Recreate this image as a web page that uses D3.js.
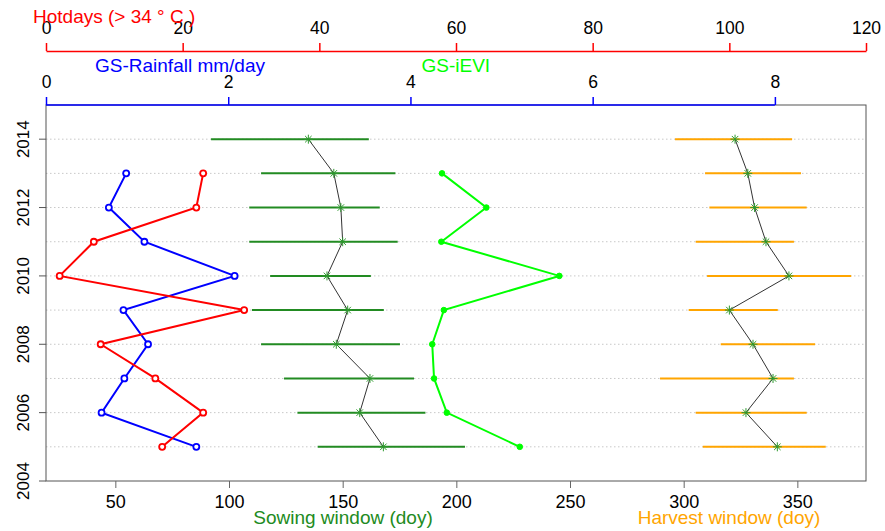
<!DOCTYPE html>
<html>
<head>
<meta charset="utf-8">
<script src="https://cdn.jsdelivr.net/npm/d3@7"></script>
<style>
  body { margin: 0; background: #fff; }
  text { font-family: "Liberation Sans", Arial, sans-serif; }
</style>
</head>
<body>
<div id="app"></div>
<script>
// years shown on the y axis (2014 has only sowing / harvest)
var years = [2005, 2006, 2007, 2008, 2009, 2010, 2011, 2012, 2013, 2014];

// hot days (> 34 C), top red axis
var hotdays = [17, 23, 16, 8, 29, 2, 7, 22, 23, null];
// growing season rainfall mm/day, blue axis
var rainfall = [1.65, 0.61, 0.86, 1.12, 0.85, 2.07, 1.08, 0.69, 0.88, null];
// GS-iEVI, drawn on the doy scale (no own axis)
var ievi = [227.9, 195.8, 190.2, 189.4, 194.5, 245.3, 193.4, 213.2, 193.7, null];

// sowing window (doy): start, mean, end
var sowStart = [139.0, 130.1, 124.2, 114.1, 110.1, 118.1, 108.9, 108.9, 114.1, 92.1];
var sowMean  = [167.9, 157.5, 162.0, 147.2, 152.2, 143.1, 150.0, 149.2, 146.1, 134.9];
var sowEnd   = [203.8, 186.4, 181.4, 175.2, 168.1, 162.4, 174.2, 166.3, 173.2, 161.5];

// harvest window (doy): start, mean, end
var harStart = [308.4, 305.3, 289.6, 316.3, 302.2, 310.3, 305.3, 311.3, 309.4, 296.2];
var harMean  = [341.2, 327.4, 339.3, 330.5, 320.1, 346.3, 336.2, 331.2, 328.2, 322.6];
var harEnd   = [362.5, 354.1, 348.5, 357.8, 341.4, 373.7, 348.5, 354.1, 351.6, 347.7];

// tick labels
var doyTicks = [50, 100, 150, 200, 250, 300, 350];
var yearTicks = [2004, 2006, 2008, 2010, 2012, 2014];
var hotTicks = [0, 20, 40, 60, 80, 100, 120];
var rainTicks = [0, 2, 4, 6, 8];

var width = 885,
    height = 531;

// plot box (window.top is read-only, so no "top" here)
var boxL = 46, boxR = 866, boxT = 105, boxB = 481;

var svg = d3.select("#app").append("svg")
    .attr("width", width)
    .attr("height", height);

var x = d3.scaleLinear().domain([19.5, 380.2]).range([boxL, boxR]);
var y = d3.scaleLinear().domain([2004, 2015]).range([boxB, boxT]);
var xHot = d3.scaleLinear().domain([0, 120]).range([boxL, boxR]);
var xRain = d3.scaleLinear().domain([0, 9]).range([boxL, boxR]);

var rows = years.map(function(yr, i) {
    return {
        year: yr, hot: hotdays[i], rain: rainfall[i], ievi: ievi[i],
        s0: sowStart[i], s: sowMean[i], s1: sowEnd[i],
        h0: harStart[i], h: harMean[i], h1: harEnd[i]
    };
});

// dotted grid lines at each year
svg.append("g").selectAll("line")
    .data(years)
    .enter().append("line")
    .attr("x1", boxL).attr("x2", boxR)
    .attr("y1", function(d) { return y(d); })
    .attr("y2", function(d) { return y(d); })
    .style("stroke", "#c8c8c8")
    .style("stroke-dasharray", "1.5,2.5");

// box
svg.append("rect")
    .attr("x", boxL).attr("y", boxT)
    .attr("width", boxR - boxL).attr("height", boxB - boxT)
    .style("fill", "none")
    .style("stroke", "#555");

// bottom axis
var xAxis = svg.append("g")
    .attr("transform", "translate(0," + boxB + ")")
    .call(d3.axisBottom(x).tickValues(doyTicks).tickSize(7).tickSizeOuter(0));
xAxis.select(".domain").remove();
xAxis.selectAll("line").style("stroke", "#666");
xAxis.selectAll("text")
    .attr("y", 27).attr("dy", 0)
    .style("font-size", "18px").style("fill", "#000")
    .style("font-family", "Liberation Sans, Arial, sans-serif");

// left axis, rotated labels
var yAxis = svg.append("g");
yAxis.selectAll("line")
    .data(yearTicks)
    .enter().append("line")
    .attr("x1", boxL - 7).attr("x2", boxL)
    .attr("y1", function(d) { return y(d); })
    .attr("y2", function(d) { return y(d); })
    .style("stroke", "#555");
yAxis.selectAll("text")
    .data(yearTicks)
    .enter().append("text")
    .attr("transform", function(d) { return "translate(28.5," + y(d) + ") rotate(-90)"; })
    .attr("text-anchor", "middle")
    .style("font-size", "17px")
    .text(function(d) { return d; });

// top red axis: hot days
var hotAxis = svg.append("g")
    .attr("transform", "translate(0,51)")
    .call(d3.axisTop(xHot).tickValues(hotTicks).tickSize(8).tickSizeOuter(0));
hotAxis.select(".domain").style("stroke", "red").style("stroke-width", 1.5);
hotAxis.selectAll("line").style("stroke", "red").style("stroke-width", 1.5);
hotAxis.selectAll("text")
    .attr("y", -17.5).attr("dy", 0)
    .style("font-size", "17.5px").style("fill", "#000")
    .style("font-family", "Liberation Sans, Arial, sans-serif");

// top blue axis: rainfall (line runs 0 to 8 only)
var rainAxis = svg.append("g")
    .attr("transform", "translate(0," + boxT + ")")
    .call(d3.axisTop(xRain).tickValues(rainTicks).tickSize(8).tickSizeOuter(0));
rainAxis.select(".domain").remove();
rainAxis.append("line")
    .attr("x1", xRain(0)).attr("x2", xRain(8))
    .style("stroke", "blue").style("stroke-width", 1.5);
rainAxis.selectAll("line").style("stroke", "blue").style("stroke-width", 1.5);
rainAxis.selectAll("text")
    .attr("y", -17.5).attr("dy", 0)
    .style("font-size", "17.5px").style("fill", "#000")
    .style("font-family", "Liberation Sans, Arial, sans-serif");

// axis titles
svg.append("text").attr("x", 33).attr("y", 22.5)
    .style("font-size", "19px").style("fill", "red")
    .text("Hotdays (> 34 \u00b0 C )");
svg.append("text").attr("x", 95).attr("y", 72)
    .style("font-size", "19px").style("fill", "blue")
    .text("GS-Rainfall mm/day");
svg.append("text").attr("x", 421.5).attr("y", 72)
    .style("font-size", "19px").style("fill", "#00ff00")
    .text("GS-iEVI");
svg.append("text").attr("x", 343).attr("y", 523.5)
    .attr("text-anchor", "middle")
    .style("font-size", "19px").style("fill", "#228b22")
    .text("Sowing window (doy)");
svg.append("text").attr("x", 729).attr("y", 523.5)
    .attr("text-anchor", "middle")
    .style("font-size", "19px").style("fill", "orange")
    .text("Harvest window (doy)");

// window bars
function windowBars(lo, hi, color) {
    svg.append("g").selectAll("line")
        .data(rows)
        .enter().append("line")
        .attr("x1", function(d) { return x(d[lo]); })
        .attr("x2", function(d) { return x(d[hi]); })
        .attr("y1", function(d) { return y(d.year); })
        .attr("y2", function(d) { return y(d.year); })
        .style("stroke", color)
        .style("stroke-width", 2);
}
windowBars("s0", "s1", "#228b22");
windowBars("h0", "h1", "orange");

// mean lines with asterisk markers
function meanLine(key) {
    var line = d3.line()
        .x(function(d) { return x(d[key]); })
        .y(function(d) { return y(d.year); });
    svg.append("path")
        .datum(rows)
        .attr("d", line)
        .style("fill", "none")
        .style("stroke", "#333")
        .style("stroke-width", 1);

    var star = svg.append("g").selectAll("g")
        .data(rows)
        .enter().append("g")
        .attr("transform", function(d) { return "translate(" + x(d[key]) + "," + y(d.year) + ")"; });
    var r = 4.5, q = r * 0.72;
    [[-r, 0, r, 0], [0, -r, 0, r], [-q, -q, q, q], [-q, q, q, -q]].forEach(function(s) {
        star.append("line")
            .attr("x1", s[0]).attr("y1", s[1]).attr("x2", s[2]).attr("y2", s[3])
            .style("stroke", "#2e9a2e")
            .style("stroke-width", 1);
    });
}
meanLine("s");
meanLine("h");

// lines with points for hot days, rainfall, iEVI
function series(key, scale, color, filled) {
    var pts = rows.filter(function(d) { return d[key] != null; });
    var line = d3.line()
        .x(function(d) { return scale(d[key]); })
        .y(function(d) { return y(d.year); });
    svg.append("path")
        .datum(pts)
        .attr("d", line)
        .style("fill", "none")
        .style("stroke", color)
        .style("stroke-width", 2);
    svg.append("g").selectAll("circle")
        .data(pts)
        .enter().append("circle")
        .attr("cx", function(d) { return scale(d[key]); })
        .attr("cy", function(d) { return y(d.year); })
        .attr("r", filled ? 2.8 : 3)
        .style("fill", filled ? color : "#fff")
        .style("stroke", color)
        .style("stroke-width", filled ? 1 : 1.8);
}
series("ievi", x, "#00ff00", true);
series("rain", xRain, "blue", false);
series("hot", xHot, "red", false);
</script>
</body>
</html>
